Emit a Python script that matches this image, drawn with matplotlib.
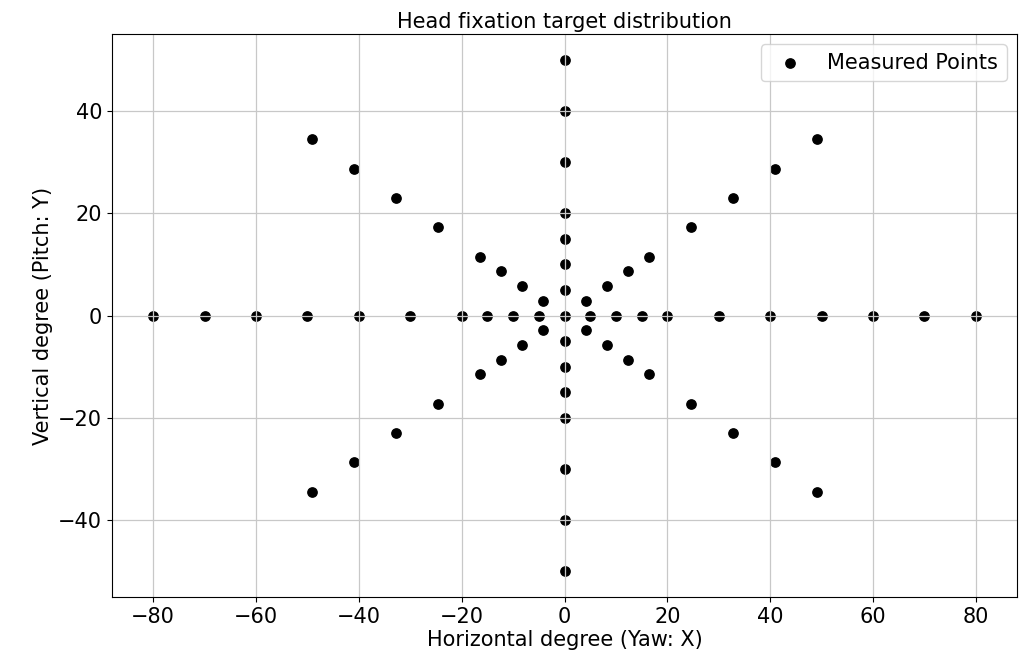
import matplotlib
matplotlib.use("Agg")
import matplotlib.pyplot as plt

# Horizontal axis points (pitch 0)
h_x = [-80, -70, -60, -50, -40, -30, -20, -15, -10, -5, 0, 5, 10, 15, 20, 30, 40, 50, 60, 70, 80]
h_y = [0] * len(h_x)

# Vertical axis points (yaw 0)
v_y = [-50, -40, -30, -20, -15, -10, -5, 5, 10, 15, 20, 30, 40, 50]
v_x = [0] * len(v_y)

# Diagonal points
d_x = [49.1, 41.0, 32.8, 24.6, 16.4, 12.3, 8.2, 4.1,
       -49.1, -41.0, -32.8, -24.6, -16.4, -12.3, -8.2, -4.1,
       49.1, 41.0, 32.8, 24.6, 16.4, 12.3, 8.2, 4.1,
       -49.1, -41.0, -32.8, -24.6, -16.4, -12.3, -8.2, -4.1]
d_y = [34.4, 28.7, 22.9, 17.2, 11.5, 8.6, 5.7, 2.9,
       34.4, 28.7, 22.9, 17.2, 11.5, 8.6, 5.7, 2.9,
       -34.4, -28.7, -22.9, -17.2, -11.5, -8.6, -5.7, -2.9,
       -34.4, -28.7, -22.9, -17.2, -11.5, -8.6, -5.7, -2.9]

xs = h_x + v_x + d_x
ys = h_y + v_y + d_y

fig = plt.figure(figsize=(10.25, 6.55), dpi=100)
ax = fig.add_axes([112/1025, 1 - 597/655, (1017-112)/1025, (597-34)/655])
ax.scatter(xs, ys, color='black', s=45, label='Measured Points')
ax.grid(True, color='#c8c8c8', linewidth=0.9)
ax.set_xticks([-80, -60, -40, -20, 0, 20, 40, 60, 80])
ax.set_yticks([-40, -20, 0, 20, 40])
ax.tick_params(labelsize=15)
ax.set_xlabel('Horizontal degree (Yaw: X)', fontsize=15, labelpad=2)
ax.set_ylabel('Vertical degree (Pitch: Y)', fontsize=15)
ax.set_title('Head fixation target distribution', fontsize=15, pad=4)
ax.legend(fontsize=15, loc='upper right')
fig.savefig('out.png', dpi=100)
